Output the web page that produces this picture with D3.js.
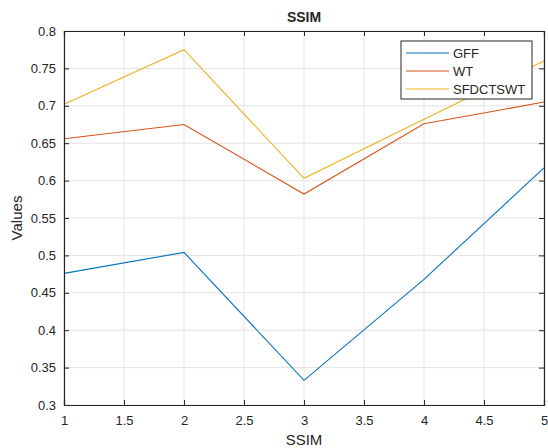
<!DOCTYPE html>
<html>
<head>
<meta charset="utf-8">
<script src="https://cdn.jsdelivr.net/npm/d3@7"></script>
<style>
body { margin:0; background:#fff; }
text { font-family: "Liberation Sans", Arial, sans-serif; fill:#262626; }
</style>
</head>
<body>
<div id="chart"></div>
<script>
// data
var xVals = [1, 2, 3, 4, 5];
var gff = [0.476, 0.504, 0.333, 0.468, 0.617];
var wt = [0.656, 0.675, 0.582, 0.676, 0.705];
var sfdctswt = [0.702, 0.775, 0.603, 0.682, 0.760];
var seriesNames = ['GFF', 'WT', 'SFDCTSWT'];
var colors = ['#0072BD', '#D95319', '#EDB120'];
var xTicks = [1, 1.5, 2, 2.5, 3, 3.5, 4, 4.5, 5];
var yTicks = [0.3, 0.35, 0.4, 0.45, 0.5, 0.55, 0.6, 0.65, 0.7, 0.75, 0.8];

var svgWidth = 548, svgHeight = 448;
var margin = {t:31, r:4, b:43, l:64};
var width = svgWidth - margin.l - margin.r,
	height = svgHeight - margin.t - margin.b;

var svg = d3.select('#chart').append('svg')
	.attr('width', svgWidth)
	.attr('height', svgHeight);

var chart = svg.append('g')
	.attr('transform', `translate(${margin.l},${margin.t})`);

var xScale = d3.scaleLinear().domain([1, 5]).range([0, width]);
var yScale = d3.scaleLinear().domain([0.3, 0.8]).range([height, 0]);

// grid
chart.append('g')
	.selectAll('line.gx')
	.data(xTicks)
	.enter().append('line')
	.attr('x1', d => xScale(d)).attr('x2', d => xScale(d))
	.attr('y1', 0).attr('y2', height)
	.attr('stroke', '#e3e3e3').attr('stroke-width', 1);
chart.append('g')
	.selectAll('line.gy')
	.data(yTicks)
	.enter().append('line')
	.attr('y1', d => yScale(d)).attr('y2', d => yScale(d))
	.attr('x1', 0).attr('x2', width)
	.attr('stroke', '#e3e3e3').attr('stroke-width', 1);

// lines
var allSeries = [gff, wt, sfdctswt];
var line = d3.line()
	.x((d, i) => xScale(xVals[i]))
	.y(d => yScale(d));

allSeries.forEach((s, k) => {
	chart.append('path')
		.datum(s)
		.attr('fill', 'none')
		.attr('stroke', colors[k])
		.attr('stroke-width', 1.1)
		.attr('d', line);
});

// axes (ticks inward, box on)
var fmt = d => String(+d.toFixed(2));
var xAxis = chart.append('g')
	.attr('transform', `translate(0,${height})`)
	.call(d3.axisBottom(xScale).tickValues(xTicks).tickSize(-5).tickPadding(11).tickFormat(fmt));
var xAxisTop = chart.append('g')
	.call(d3.axisTop(xScale).tickValues(xTicks).tickSize(-5).tickFormat(''));
var yAxis = chart.append('g')
	.call(d3.axisLeft(yScale).tickValues(yTicks).tickSize(-5).tickPadding(8).tickFormat(fmt));
var yAxisRight = chart.append('g')
	.attr('transform', `translate(${width},0)`)
	.call(d3.axisRight(yScale).tickValues(yTicks).tickSize(-5).tickFormat(''));

[xAxis, xAxisTop, yAxis, yAxisRight].forEach(a => {
	a.select('.domain').attr('stroke', '#262626').attr('stroke-width', 1.2);
	a.selectAll('.tick line').attr('stroke', '#262626');
	a.selectAll('.tick text').style('font-size', '13px').attr('fill', '#262626')
		.style('font-family', '"Liberation Sans", Arial, sans-serif');
});

// title & labels
svg.append('text')
	.attr('x', margin.l + width / 2).attr('y', 22)
	.attr('text-anchor', 'middle')
	.style('font-size', '14px').style('font-weight', 'bold')
	.text('SSIM');

svg.append('text')
	.attr('x', margin.l + width / 2).attr('y', 445)
	.attr('text-anchor', 'middle')
	.style('font-size', '15px')
	.text('SSIM');

svg.append('text')
	.attr('transform', `translate(22,${margin.t + height / 2})rotate(-90)`)
	.attr('text-anchor', 'middle')
	.style('font-size', '15px')
	.text('Values');

// legend
var legend = svg.append('g').attr('transform', 'translate(401,41)');
legend.append('rect')
	.attr('width', 131).attr('height', 58)
	.attr('fill', '#fff').attr('stroke', '#262626').attr('stroke-width', 1);
seriesNames.forEach((n, k) => {
	var y = 12 + k * 18;
	legend.append('line')
		.attr('x1', 5).attr('x2', 48)
		.attr('y1', y).attr('y2', y)
		.attr('stroke', colors[k]).attr('stroke-width', 1.1);
	legend.append('text')
		.attr('x', 52).attr('y', y + 5)
		.style('font-size', '13px')
		.text(n);
});
</script>
</body>
</html>
